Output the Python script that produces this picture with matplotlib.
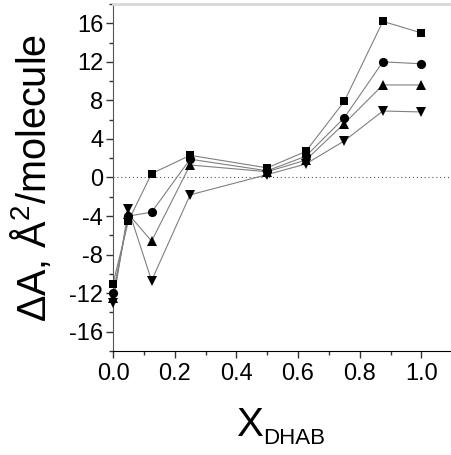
import matplotlib
matplotlib.use("Agg")
import matplotlib.pyplot as plt
from matplotlib.ticker import MultipleLocator

plt.rcParams['font.family'] = ['Liberation Sans', 'DejaVu Sans']
plt.rcParams['mathtext.fontset'] = 'custom'
plt.rcParams['mathtext.rm'] = 'Liberation Sans'
plt.rcParams['mathtext.it'] = 'Liberation Sans:italic'

# mole fraction of DHAB
x_dhab = [0.0, 0.05, 0.125, 0.25, 0.5, 0.625, 0.75, 0.875, 1.0]

# excess area per molecule, four series
squares = [-11.0, -4.5, 0.4, 2.3, 1.0, 2.7, 7.9, 16.2, 15.0]
circles = [-12.0, -4.0, -3.6, 1.9, 0.7, 2.2, 6.2, 12.0, 11.8]
triangles_up = [-12.5, -3.8, -6.6, 1.3, 0.6, 1.8, 5.6, 9.6, 9.6]
triangles_down = [-13.0, -3.3, -10.7, -1.8, 0.3, 1.4, 3.8, 6.9, 6.8]

y_ticks = [-16, -12, -8, -4, 0, 4, 8, 12, 16]
x_ticks = [0.0, 0.2, 0.4, 0.6, 0.8, 1.0]

fig = plt.figure(figsize=(4.51, 4.55), dpi=100)
ax = fig.add_axes([0.2506, 0.2286, 0.7494, 0.7626])

# dotted zero line
ax.axhline(0, color='#555555', lw=0.8, ls=(0, (1, 2.5)), zorder=1)

series = [(squares, 's', 5.8), (circles, 'o', 6.6),
          (triangles_up, '^', 7.2), (triangles_down, 'v', 7.2)]
for ys, marker, ms in series:
    ax.plot(x_dhab, ys, color='#808080', lw=0.8, zorder=2)
    ax.plot(x_dhab, ys, ls='none', marker=marker, ms=ms, color='black',
            markeredgewidth=0, zorder=3, clip_on=False)

ax.set_xlim(0, 1.096)
ax.set_ylim(-18, 18)
ax.set_xticks(x_ticks)
ax.set_yticks(y_ticks)
ax.xaxis.set_minor_locator(MultipleLocator(0.1))
ax.yaxis.set_minor_locator(MultipleLocator(2))
ax.set_xticklabels(['%.1f' % v for v in x_ticks])
ax.set_yticklabels([str(v) for v in y_ticks])

ax.tick_params(axis='both', which='major', direction='out', length=5,
               width=1, labelsize=17, color='#333333')
ax.tick_params(axis='both', which='minor', direction='out', length=3,
               width=1, color='#333333')
ax.tick_params(axis='x', pad=4)
ax.tick_params(axis='y', pad=2)

ax.spines['right'].set_visible(False)
ax.spines['top'].set_color('#d8d8d8')
ax.spines['top'].set_linewidth(2)
ax.spines['left'].set_color('#555555')
ax.spines['bottom'].set_color('black')

# x label: big X with a small lowered DHAB subscript
ax.text(0.444, -0.245, 'X', ha='right', va='baseline', fontsize=29,
        transform=ax.transAxes)
ax.text(0.444, -0.268, 'DHAB', ha='left', va='baseline', fontsize=16,
        transform=ax.transAxes)
ax.set_ylabel(r'ΔA, Å$^2$/molecule', fontsize=28.5, labelpad=11)

fig.savefig('out.png', dpi=100)
